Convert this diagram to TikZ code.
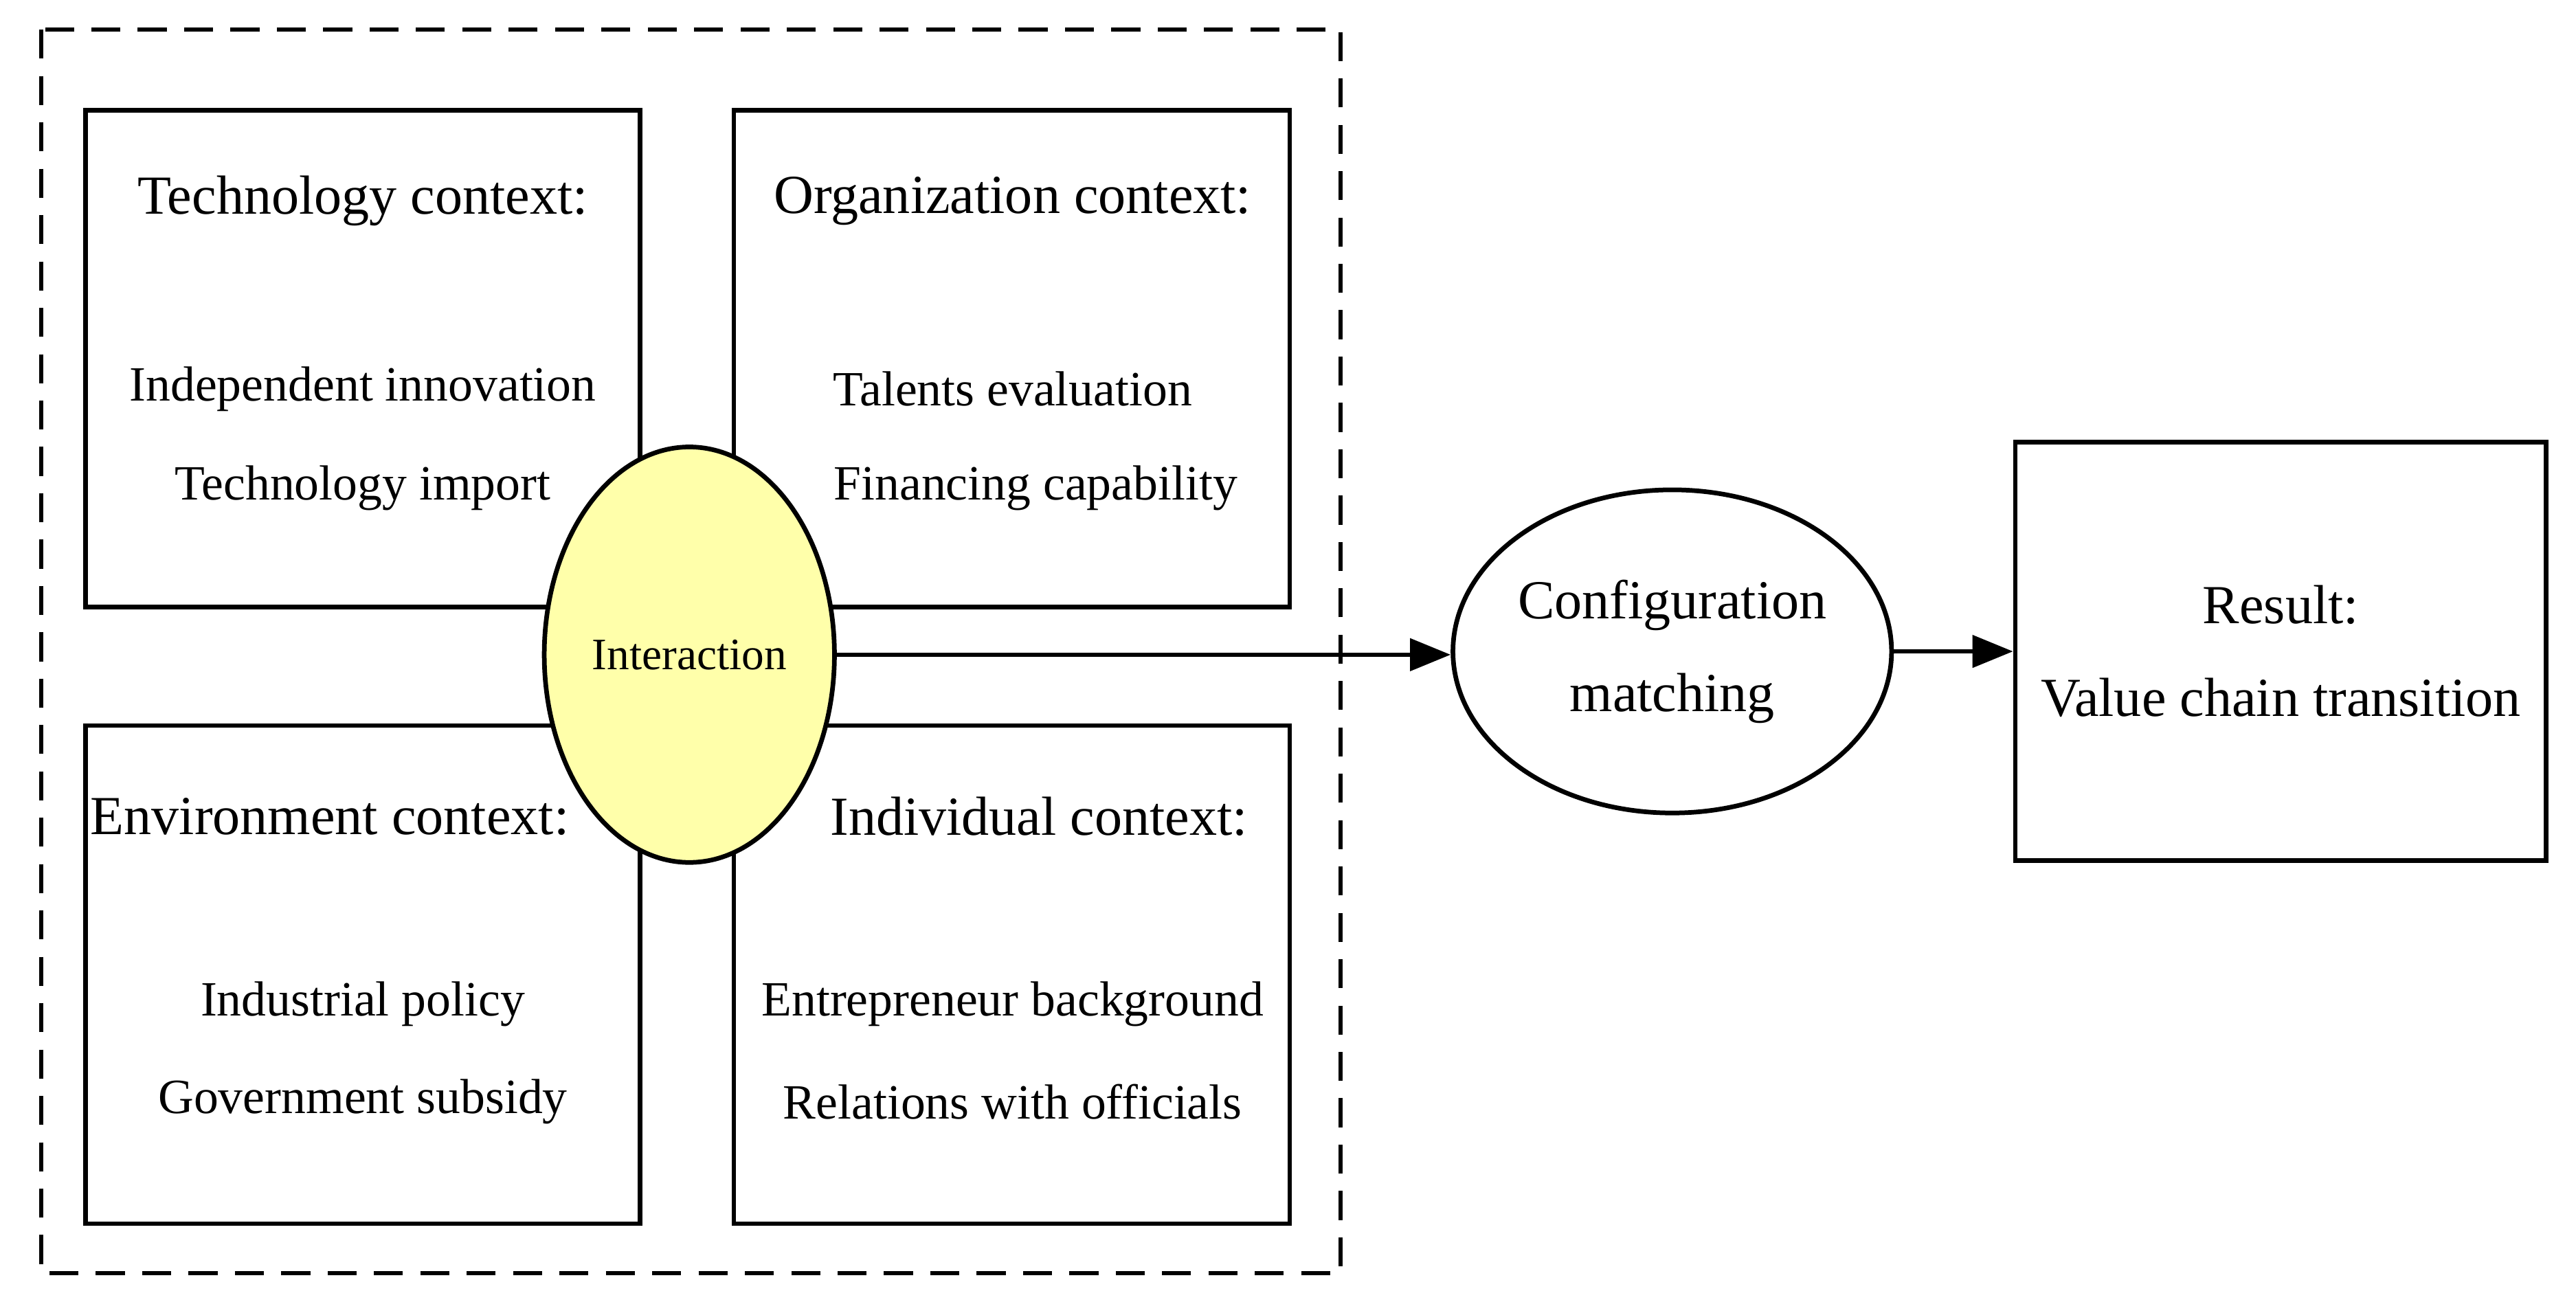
\documentclass[tikz,border=0pt]{standalone}
\usepackage{fontspec}
\setmainfont{Liberation Serif}
\usetikzlibrary{arrows.meta,shapes.geometric}
\begin{document}
\begin{tikzpicture}[x=0.02cm,y=-0.02cm,
 box/.style={draw,line width=1.6pt},
 ttl/.style={font=\fontsize{19}{22}\selectfont},
 txt/.style={font=\fontsize{17}{20}\selectfont},
 arr/.style={line width=1.6pt,-{Triangle[length=14pt,width=11pt]}}]
\useasboundingbox (0,0) rectangle (1562,796);
\draw[line width=1.4pt,dash pattern=on 10pt off 6pt] (25,18) rectangle (813,772);
\draw[box] (52,67) rectangle (388,368);
\draw[box] (445,67) rectangle (782,368);
\draw[box] (52,440) rectangle (388,742);
\draw[box] (445,440) rectangle (782,742);
\node[ttl] (t1) at (220,122) {Technology context:};
\node[txt] (t2) at (220,236) {Independent innovation};
\node[txt] (t3) at (220,296) {Technology import};
\node[ttl] (o1) at (614,122) {Organization context:};
\node[txt] (o2) at (614,236) {Talents evaluation};
\node[txt] (o3) at (628,296) {Financing capability};
\node[ttl] (e1) at (200,495) {Environment context:};
\node[txt] (e2) at (220,609) {Industrial policy};
\node[txt] (e3) at (220,668) {Government subsidy};
\node[ttl] (i1) at (630,495) {Individual context:};
\node[txt] (i2) at (614,609) {Entrepreneur background};
\node[txt] (i3) at (614,668) {Relations with officials};
\node[draw,line width=1.6pt,fill={rgb,255:red,255;green,255;blue,170},ellipse,minimum width=3.52cm,minimum height=5.04cm,inner sep=0pt,font=\fontsize{15.5}{18}\selectfont] (int) at (418,397) {Interaction};
\node[draw,line width=1.6pt,ellipse,minimum width=5.32cm,minimum height=3.92cm,inner sep=0pt,ttl,align=center] (cfg) at (1014,395) {Configuration\\[10pt]matching};
\node[box,minimum width=6.44cm,minimum height=5.08cm,ttl,align=center] (res) at (1383,395) {Result:\\[10pt]Value chain transition};
\draw[arr] (int.east) -- (int.east -| cfg.west);
\draw[arr] (cfg) -- (res);
\end{tikzpicture}
\end{document}
